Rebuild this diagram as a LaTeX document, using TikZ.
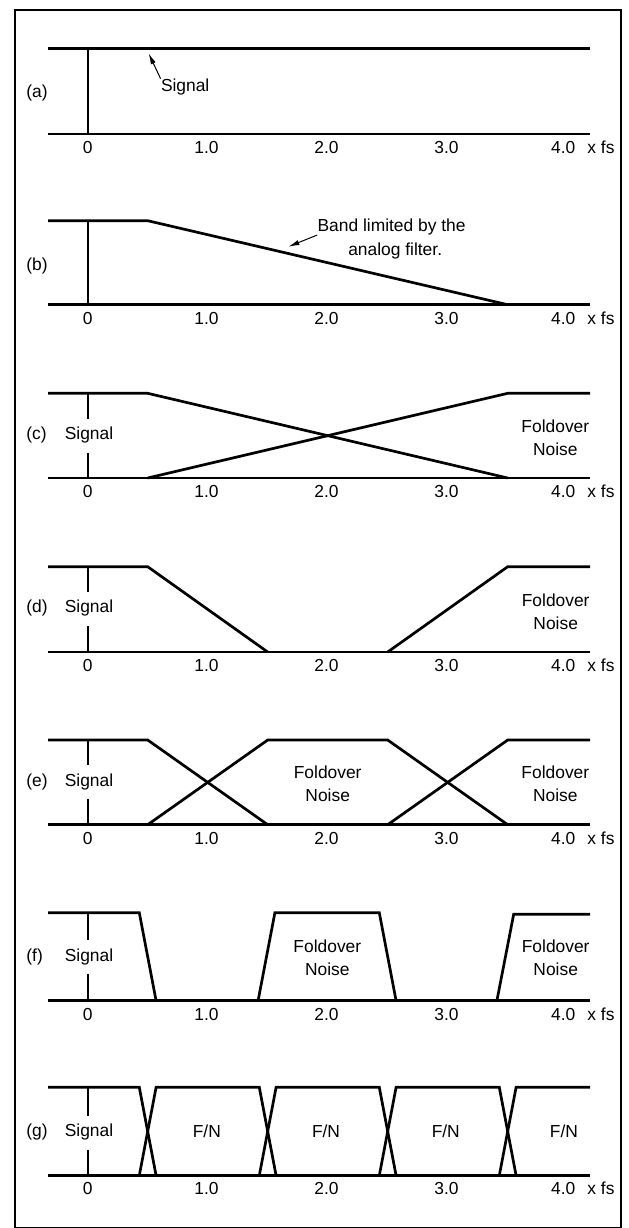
\documentclass[tikz,border=0pt]{standalone}
\usepackage{fontspec}
\setmainfont{Liberation Sans}
\usetikzlibrary{arrows.meta}

\tikzset{
  trace/.style={line width=1.35pt},
  zeroline/.style={line width=1pt},
  frame/.style={line width=1pt},
  txt/.style={inner sep=0pt, font=\fontsize{8.7}{11.5}\selectfont},
  pointer/.style={line width=0.5pt, -{Latex[length=5.5pt,width=2.6pt]}},
  panel/.style={xshift=43.85pt, yshift=#1, x=60pt},
}

% frequency axis with its tick labels; #1 = panel prefix, #2 = depth of the axis
\newcommand\freqaxis[2]{%
  \draw[trace] (-0.33,#2) -- (4.186,#2);
  \node[txt,anchor=base] (#1k0) at (0,#2+19.3) {0};
  \node[txt,anchor=base] (#1k1) at (0.99,#2+19.3) {1.0};
  \node[txt,anchor=base] (#1k2) at (1.99,#2+19.3) {2.0};
  \node[txt,anchor=base] (#1k3) at (2.99,#2+19.3) {3.0};
  \node[txt,anchor=base] (#1k4) at (3.963,#2+19.3) {4.0};
  \node[txt,anchor=base west] (#1xfs) at (4.161,#2+19.3) {x fs};
}

% panel letter on the left; #1 = prefix, #2 = baseline, #3 = letter
\newcommand\panellabel[3]{%
  \node[txt,anchor=base west] (#1lab) at (-0.514,#2) {(#3)};
}

% zero-frequency line interrupted by the "Signal" label; #1 prefix, #2 depth, #3 baseline
\newcommand\signalline[3]{%
  \node[txt,anchor=base] (#1sig) at (0.011,#3) {Signal};
  \coordinate (#1zt) at (0,0);
  \coordinate (#1zb) at (0,#2);
  \draw[zeroline] (#1zt) -- (0,#3-21);
  \draw[zeroline] (0,#3+13) -- (#1zb);
}

\begin{document}
\begin{tikzpicture}[x=0.5pt,y=-0.5pt]
\useasboundingbox (0,0) rectangle (628,1228);
\draw[frame] (14.7,9.8) rectangle (620.7,1227.5);

% (a) flat spectrum
\begin{scope}[panel=-24.35pt]
  \draw[trace] (-0.33,0) -- (4.186,0);
  \draw[zeroline] (0,0) -- (0,85.3);
  \freqaxis{a}{85.3}
  \panellabel{a}{48.8}{a}
  \node[txt,anchor=base west] (asig) at (0.6075,43) {Signal};
  \coordinate (asigtip) at (0.5075,4.6);
  \draw[pointer] (asig.north west) -- (asigtip);
\end{scope}

% (b) analog filter roll-off
\begin{scope}[panel=-110.35pt]
  \draw[trace] (-0.33,0) -- (0.5,0) -- (3.5,84);
  \draw[zeroline] (0,0) -- (0,84);
  \freqaxis{b}{84}
  \panellabel{b}{49.8}{b}
  \node[txt,anchor=base] (bl1) at (2.5325,11) {Band limited by the};
  \node[txt,anchor=base] (bl2) at (2.5625,34.3) {analog filter.};
  \coordinate (bltip) at (1.6725,26);
  \draw[pointer] ([yshift=-1.65pt]bl1.base west) -- (bltip);
\end{scope}

% (c)
\begin{scope}[panel=-196.65pt]
  \draw[trace] (-0.33,0) -- (0.5,0) -- (3.5,84.7);
  \draw[trace] (0.5,84.7) -- (3.5,0) -- (4.186,0);
  \freqaxis{c}{84.7}
  \panellabel{c}{46.5}{c}
  \signalline{c}{84.7}{46.5}
  \node[txt,align=center,anchor=north] (cfn) at (3.897,26.5) {Foldover\\Noise};
\end{scope}

% (d)
\begin{scope}[panel=-283.35pt]
  \draw[trace] (-0.33,0) -- (0.5,0) -- (1.5,85.3);
  \draw[trace] (2.5,85.3) -- (3.5,0) -- (4.186,0);
  \freqaxis{d}{85.3}
  \panellabel{d}{46.1}{d}
  \signalline{d}{85.3}{46.1}
  \node[txt,align=center,anchor=north] (dfn) at (3.9,26.3) {Foldover\\Noise};
\end{scope}

% (e)
\begin{scope}[panel=-370pt]
  \draw[trace] (-0.33,0) -- (0.5,0) -- (1.5,84.7);
  \draw[trace] (0.5,84.7) -- (1.5,0) -- (2.5,0) -- (3.5,84.7);
  \draw[trace] (2.5,84.7) -- (3.5,0) -- (4.186,0);
  \freqaxis{e}{84.7}
  \panellabel{e}{46.2}{e}
  \signalline{e}{84.7}{46.2}
  \node[txt,align=center,anchor=north] (efn1) at (2.0,25) {Foldover\\Noise};
  \node[txt,align=center,anchor=north] (efn2) at (3.897,25) {Foldover\\Noise};
\end{scope}

% (f)
\begin{scope}[panel=-456.35pt]
  \draw[trace] (-0.33,0) -- (0.43,0) -- (0.57,88);
  \draw[trace] (1.42,88) -- (1.56,0) -- (2.43,0) -- (2.57,88);
  \draw[trace] (3.41,88) -- (3.55,1.5) -- (4.186,1.5);
  \freqaxis{f}{88}
  \panellabel{f}{48.5}{f}
  \signalline{f}{88}{48.5}
  \node[txt,align=center,anchor=north] (ffn1) at (1.997,26.3) {Foldover\\Noise};
  \node[txt,align=center,anchor=north] (ffn2) at (3.9,26.3) {Foldover\\Noise};
\end{scope}

% (g)
\begin{scope}[panel=-543.65pt]
  \draw[trace] (-0.33,0) -- (0.43,0) -- (0.57,88.2);
  \draw[trace] (0.43,88.2) -- (0.57,0) -- (1.43,0) -- (1.57,88.2);
  \draw[trace] (1.43,88.2) -- (1.57,0) -- (2.43,0) -- (2.57,88.2);
  \draw[trace] (2.43,88.2) -- (2.57,0) -- (3.43,0) -- (3.57,88.2);
  \draw[trace] (3.43,88.2) -- (3.57,0) -- (4.186,0);
  \freqaxis{g}{88.2}
  \panellabel{g}{49.2}{g}
  \signalline{g}{88.2}{49.2}
  \node[txt,anchor=base] (gfn1) at (0.993,50) {F/N};
  \node[txt,anchor=base] (gfn2) at (1.986,50) {F/N};
  \node[txt,anchor=base] (gfn3) at (2.984,50) {F/N};
  \node[txt,anchor=base] (gfn4) at (3.969,50) {F/N};
\end{scope}
\end{tikzpicture}
\end{document}
